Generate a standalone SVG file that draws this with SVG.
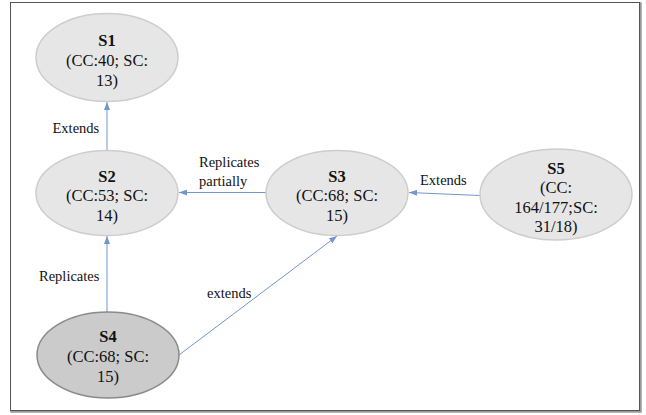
<svg xmlns="http://www.w3.org/2000/svg" width="646" height="415" viewBox="0 0 646 415">
<style>
.n ellipse{fill:#e6e6e6;stroke:#cdcdcd;stroke-width:1.5}
#S4 ellipse{fill:#cbcbcb;stroke:#8a8a8a}
text{font-family:'Liberation Serif','Times New Roman',Times,'DejaVu Serif',serif;fill:#111}
.n text{font-size:16.5px;text-anchor:middle}
.b{font-weight:bold}
.lbl{font-size:14.5px}
#edges line{stroke:#7197cc;stroke-width:1;marker-end:url(#ah)}
</style>
<defs>
<marker id="ah" viewBox="0 0 8 6" refX="8" refY="3" markerWidth="8" markerHeight="6" markerUnits="userSpaceOnUse" orient="auto">
<path d="M0,0 L8,3 L0,6 Z" fill="#7197cc"/>
</marker>
</defs>
<rect x="0" y="0" width="646" height="415" fill="#fff"/>
<rect x="11.5" y="3.5" width="629" height="408" fill="none" stroke="#9a9a9a" stroke-width="2.5"/>
<rect x="10.5" y="2.5" width="629" height="408" fill="#fff" stroke="#555" stroke-width="1"/>
<g id="edges">
<line x1="107" y1="151" x2="107" y2="102"/>
<line x1="107" y1="312" x2="107" y2="236"/>
<line x1="267" y1="192.5" x2="179" y2="192.5"/>
<line x1="480" y1="195.5" x2="409" y2="192.5"/>
<line x1="179" y1="355" x2="337" y2="236"/>
</g>
<g id="labels">
<text class="lbl" x="52.5" y="133" font-family="Liberation Serif">Extends</text>
<text class="lbl" x="39" y="281">Replicates</text>
<text class="lbl" x="199" y="167">Replicates</text>
<text class="lbl" x="199" y="186">partially</text>
<text class="lbl" x="420" y="185">Extends</text>
<text class="lbl" x="207" y="298">extends</text>
</g>
<g id="S1" class="n">
<ellipse cx="107" cy="57.5" rx="71" ry="44"/>
<text class="b" x="107" y="46">S1</text>
<text x="107" y="66">(CC:40; SC:</text>
<text x="107" y="85.5">13)</text>
</g>
<g id="S2" class="n">
<ellipse cx="107" cy="193" rx="71" ry="42.5"/>
<text class="b" x="107" y="181.5">S2</text>
<text x="107" y="201">(CC:53; SC:</text>
<text x="107" y="220.5">14)</text>
</g>
<g id="S3" class="n">
<ellipse cx="337" cy="193" rx="71" ry="42.5"/>
<text class="b" x="337" y="181.5">S3</text>
<text x="337" y="201">(CC:68; SC:</text>
<text x="337" y="220.5">15)</text>
</g>
<g id="S5" class="n">
<ellipse cx="556" cy="194.5" rx="76" ry="45.5"/>
<text class="b" x="556" y="173.5">S5</text>
<text x="556" y="193">(CC:</text>
<text x="556" y="212.5">164/177;SC:</text>
<text x="556" y="232">31/18)</text>
</g>
<g id="S4" class="n">
<ellipse cx="108" cy="355" rx="71" ry="43"/>
<text class="b" x="108" y="342">S4</text>
<text x="108" y="361.5">(CC:68; SC:</text>
<text x="108" y="381.5">15)</text>
</g>
</svg>
